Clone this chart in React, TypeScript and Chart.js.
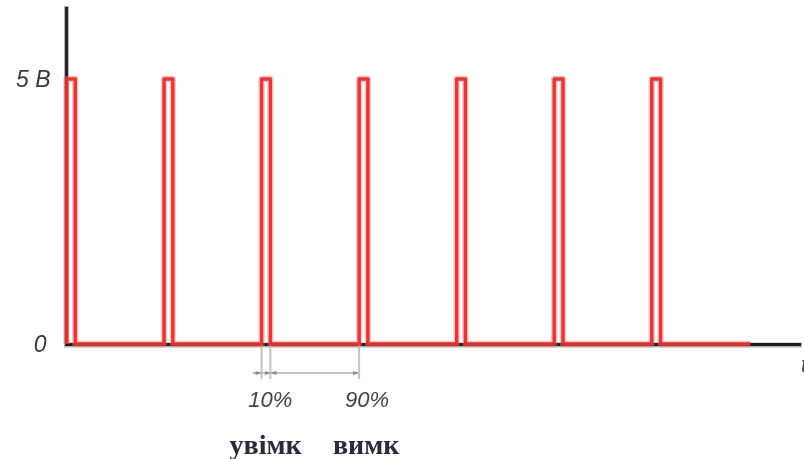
import React, { useEffect, useRef } from "react";
import { Chart, registerables } from "chart.js";

Chart.register(...registerables);

// Signal data (time in PWM periods, level in volts)
const riseTimes = [0, 1, 2, 3, 4, 5, 6];
const fallTimes = [0.09, 1.09, 2.09, 3.09, 4.09, 5.09, 6.09];
const highVolts = 5;
const lowVolts = 0;
const signalEnd = 7.01;
const axisMaxTime = 7.53;
const axisMaxVolts = 6.34;

// Labels
const yTickValues = [0, 5];
const yTickLabels = ["0", "5 В"];
const dutyLabels = ["10%", "90%"];
const stateLabels = ["увімк", "вимк"];
const timeAxisLabel = "t";

function buildSignal() {
  const pts: { x: number; y: number }[] = [];
  riseTimes.forEach((r, i) => {
    pts.push({ x: r, y: lowVolts });
    pts.push({ x: r, y: highVolts });
    pts.push({ x: fallTimes[i], y: highVolts });
    pts.push({ x: fallTimes[i], y: lowVolts });
  });
  pts.push({ x: signalEnd, y: lowVolts });
  return pts;
}

const decorPlugin = {
  id: "decor",
  beforeDatasetsDraw(chart: any) {
    const { ctx, chartArea, scales } = chart;
    const x = scales.x;
    const y = scales.y;
    ctx.save();
    ctx.lineCap = "butt";
    // axes halo
    ctx.strokeStyle = "rgba(120,120,120,0.55)";
    ctx.lineWidth = 5;
    ctx.beginPath();
    ctx.moveTo(chartArea.left, chartArea.top - 2);
    ctx.lineTo(chartArea.left, y.getPixelForValue(0) + 1);
    ctx.lineTo(x.getPixelForValue(axisMaxTime) + 1, y.getPixelForValue(0) + 1);
    ctx.stroke();
    ctx.strokeStyle = "#1c1c1c";
    ctx.lineWidth = 2.8;
    ctx.beginPath();
    ctx.moveTo(chartArea.left, chartArea.top - 1);
    ctx.lineTo(chartArea.left, y.getPixelForValue(0) + 0.5);
    ctx.lineTo(x.getPixelForValue(axisMaxTime), y.getPixelForValue(0) + 0.5);
    ctx.stroke();

    // dimension lines for duty cycle
    const y0 = y.getPixelForValue(0);
    const xa = x.getPixelForValue(riseTimes[2]);
    const xb = x.getPixelForValue(fallTimes[2]);
    const xc = x.getPixelForValue(riseTimes[3]);
    ctx.strokeStyle = "#c4c4c4";
    ctx.lineWidth = 2;
    ctx.beginPath();
    [xa, xb, xc].forEach((xx) => {
      ctx.moveTo(xx, y0);
      ctx.lineTo(xx, y0 + 35);
    });
    const yd = y0 + 29;
    ctx.moveTo(xa - 9, yd);
    ctx.lineTo(xc, yd);
    ctx.stroke();
    ctx.fillStyle = "#8a8a8a";
    const arrow = (tipX: number, dir: number) => {
      ctx.beginPath();
      ctx.moveTo(tipX, yd);
      ctx.lineTo(tipX - dir * 6, yd - 2);
      ctx.lineTo(tipX - dir * 6, yd + 2);
      ctx.closePath();
      ctx.fill();
    };
    arrow(xa, 1);
    arrow(xb, -1);
    arrow(xb + 0.5, 1);
    arrow(xc, 1);
    ctx.restore();
  },
  afterDraw(chart: any) {
    const { ctx, chartArea, scales } = chart;
    const x = scales.x;
    const y = scales.y;
    ctx.save();
    ctx.fillStyle = "#3a3a3a";
    ctx.font = "italic 23px 'Liberation Sans', Arial, sans-serif";
    ctx.textAlign = "right";
    ctx.textBaseline = "middle";
    yTickValues.forEach((v, i) => {
      ctx.fillText(yTickLabels[i], chartArea.left - 16 + (i === 0 ? -4 : 0), y.getPixelForValue(v) + 2);
    });
    const y0 = y.getPixelForValue(0);
    ctx.font = "italic 22px 'Liberation Sans', Arial, sans-serif";
    ctx.textAlign = "center";
    ctx.fillStyle = "#444";
    ctx.fillText(dutyLabels[0], x.getPixelForValue(fallTimes[2]), y0 + 57);
    ctx.fillText(dutyLabels[1], x.getPixelForValue(riseTimes[3]) + 8, y0 + 57);
    ctx.textAlign = "left";
    ctx.fillText(timeAxisLabel, x.getPixelForValue(axisMaxTime), y0 + 22);

    ctx.fillStyle = "#2c2a3a";
    ctx.font = "bold 28px 'Liberation Serif', 'Times New Roman', serif";
    ctx.textAlign = "center";
    ctx.textBaseline = "alphabetic";
    ctx.fillText(stateLabels[0], x.getPixelForValue(riseTimes[2]) + 4, y0 + 110);
    ctx.fillText(stateLabels[1], x.getPixelForValue(riseTimes[3]) + 7, y0 + 110);
    ctx.restore();
  },
};

export default function App() {
  const ref = useRef<HTMLCanvasElement>(null);
  useEffect(() => {
    document.body.style.margin = "0";
    const signal = buildSignal();
    const chart = new Chart(ref.current!, {
      type: "line",
      data: {
        datasets: [
          {
            data: signal,
            borderColor: "rgba(235,115,115,0.42)",
            borderWidth: 6.5,
            pointRadius: 0,
            tension: 0,
            borderJoinStyle: "round",
            clip: false as any,
          },
          {
            data: signal,
            borderColor: "rgba(214,0,0,0.95)",
            borderWidth: 3.4,
            pointRadius: 0,
            tension: 0,
            borderJoinStyle: "round",
            clip: false as any,
          },
        ],
      },
      options: {
        animation: false,
        responsive: true,
        maintainAspectRatio: false,
        layout: { padding: { left: 66.5, right: 3, top: 8, bottom: 115 } },
        plugins: { legend: { display: false }, tooltip: { enabled: false } },
        scales: {
          x: { type: "linear", display: false, min: 0, max: axisMaxTime },
          y: { type: "linear", display: false, min: 0, max: axisMaxVolts },
        },
      },
      plugins: [decorPlugin],
    });
    return () => chart.destroy();
  }, []);
  return (
    <div style={{ width: 804, height: 459, position: "relative", background: "#fff" }}>
      <canvas ref={ref} />
    </div>
  );
}
